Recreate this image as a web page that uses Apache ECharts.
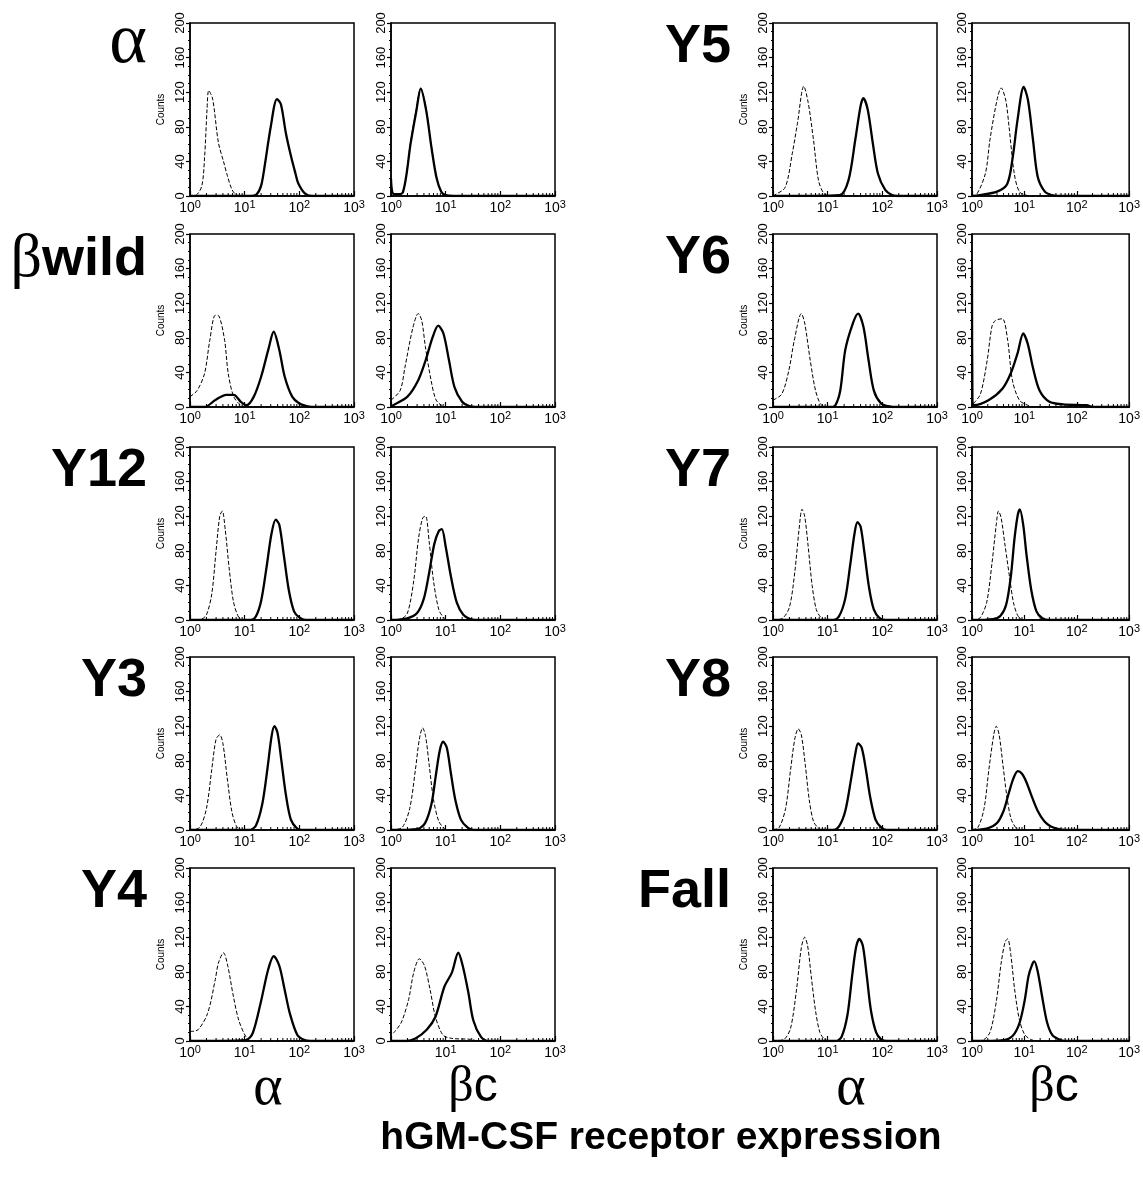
<!DOCTYPE html>
<html><head><meta charset="utf-8">
<script src="https://cdn.jsdelivr.net/npm/echarts@6/dist/echarts.min.js"></script>
<style>html,body{margin:0;padding:0;background:#fff}#c{width:1143px;height:1181px}</style>
</head><body><div id="c"></div>
<script>
// ---------- labels ----------
const rowLabelsLeft = ['α', 'βwild', 'Y12', 'Y3', 'Y4'];
const rowLabelsRight = ['Y5', 'Y6', 'Y7', 'Y8', 'Fall'];
const panelLabels = ['α', 'βc'];
const xTickValues = [1, 10, 100, 1000];
const xMinorTicks = [2,3,4,5,6,7,8,9,20,30,40,50,60,70,80,90,200,300,400,500,600,700,800,900];
const yTickValues = [0, 40, 80, 120, 160, 200];
const title = 'hGM-CSF receptor expression';

// ---------- data: [fluorescence, counts]; ctl = dashed, exp = solid ----------
const alpha_a_ctl = [[1,0],[1.3,1],[1.65,12],[1.85,45],[2.05,100],[2.2,122],[2.6,112],[3.3,62],[4.1,40],[4.8,24],[5.8,8],[6.8,2],[8.5,0],[1000,0]];
const alpha_a_exp = [[1,0],[13,0],[16.6,2],[20,12],[23,33],[30,80],[39,112],[46,106],[57,72],[71,45],[85,26],[95,15],[126,3],[170,0],[1000,0]];
const alpha_b_ctl = [[1,20],[1.06,4],[1.2,2],[1.64,4],[2.3,64],[2.9,100],[3.5,125],[4.4,100],[5.5,57],[6.8,22],[8.3,5],[10,1],[14,0],[1000,0]];
const alpha_b_exp = [[1,20],[1.06,4],[1.2,2],[1.64,4],[2.3,62],[2.9,98],[3.5,124],[4.4,99],[5.5,56],[6.8,21],[8.3,5],[10,1],[14,0],[1000,0]];

const bwild_a_ctl = [[1,12],[1.35,19],[1.85,39],[2.3,77],[2.9,106],[3.4,105],[4.3,77],[5,39],[6.3,12],[8.5,2],[11,0],[1000,0]];
const bwild_a_exp = [[1,0],[1.85,0],[2.9,8],[4.6,14],[6.3,14],[8.5,6],[10.8,2],[14.7,12],[20,35],[27,66],[34,87],[43,66],[54,35],[74,12],[100,4],[135,1],[170,0],[1000,0]];
const bwild_b_ctl = [[1,8],[1.47,19],[1.8,46],[2.5,91],[3.15,108],[3.65,100],[4.25,70],[5.4,31],[6.7,8],[9,1],[12,0],[1000,0]];
const bwild_b_exp = [[1,0],[1.1,2],[2,12],[3.15,31],[4.3,54],[5.8,81],[7.3,94],[9.1,85],[11.5,54],[14.5,23],[20,6],[27,1],[35,0],[1000,0]];

const y12_a_ctl = [[1,0],[1.6,1],[2,6],[2.5,30],[3,80],[3.5,120],[3.9,126],[4.4,105],[5.2,60],[6.2,22],[7.5,5],[9,0],[1000,0]];
const y12_a_exp = [[1,0],[13,0],[16,4],[20,22],[25,60],[31,100],[37,116],[43,110],[52,75],[64,35],[80,10],[100,3],[130,0],[1000,0]];
const y12_b_ctl = [[1,0],[1.5,1],[2,8],[2.6,45],[3.2,95],[3.8,118],[4.3,120],[5,90],[6,45],[7.5,12],[9.5,2],[12,0],[1000,0]];
const y12_b_exp = [[1,0],[2,2],[3,8],[4,25],[5,55],[6.2,88],[7.5,103],[8.5,105],[10,85],[12.5,50],[16,20],[21,6],[28,1],[35,0],[1000,0]];

const y3_a_ctl = [[1,0],[1.5,3],[2,25],[2.5,70],[3,105],[3.5,110],[4,100],[4.8,60],[5.8,22],[7,5],[8.5,0],[1000,0]];
const y3_a_exp = [[1,0],[12,0],[16,5],[21,30],[26,70],[31,108],[35,120],[40,112],[47,80],[57,40],[70,12],[90,2],[110,0],[1000,0]];
const y3_b_ctl = [[1,0],[1.6,3],[2.2,25],[2.8,70],[3.3,105],[3.8,118],[4.3,108],[5,75],[6,35],[7.5,10],[9.5,2],[12,0],[1000,0]];
const y3_b_exp = [[1,0],[3,1],[4.2,8],[5.5,30],[6.5,60],[7.8,92],[9,102],[10.5,95],[12.5,65],[15,35],[19,12],[25,3],[32,0],[1000,0]];

const y4_a_ctl = [[1,11],[1.4,13],[2.1,32],[2.9,71],[3.3,90],[4.1,102],[4.9,87],[6.2,52],[7.8,24],[10.5,5],[13,0],[1000,0]];
const y4_a_exp = [[1,0],[10.5,1],[14,9],[19.6,44],[27,83],[34,98],[43,87],[54,59],[67,32],[92,7],[125,1],[160,0],[1000,0]];
const y4_b_ctl = [[1.1,9],[1.53,21],[2.1,48],[2.6,79],[3.3,95],[4.1,87],[5.2,59],[6.5,28],[8.9,7],[13,3],[28,2],[40,0],[1000,0]];
const y4_b_exp = [[1,0],[1.9,0],[2.8,3],[4.5,13],[6.5,28],[9.5,63],[13,79],[17,102],[20.5,87],[26,56],[32,24],[44,5],[59,0],[1000,0]];

const y5_a_ctl = [[1,0],[1.07,1],[1.67,10],[2.25,49],[2.8,84],[3.66,127],[4.4,108],[5.5,65],[6.8,18],[8.5,3],[11,0],[1000,0]];
const y5_a_exp = [[1,0],[16.6,1],[24,18],[32,65],[40,104],[45,113],[54,100],[67,61],[83,26],[113,7],[150,1],[190,0],[1000,0]];
const y5_b_ctl = [[1,0],[1.2,1],[1.8,26],[2.2,65],[3,111],[3.6,125],[4.4,111],[5.1,80],[6.4,26],[8,5],[10.8,1],[14,0],[1000,0]];
const y5_b_exp = [[1,0],[1.4,1],[3,5],[4.7,14],[5.9,42],[7.4,88],[9.7,126],[11.7,111],[14.6,65],[18,22],[24.6,5],[33,1],[45,0],[1000,0]];

const y6_a_ctl = [[1,8],[1.45,15],[1.96,43],[2.45,77],[3.3,108],[3.8,97],[4.8,54],[6,19],[7.5,3],[10,0],[1000,0]];
const y6_a_exp = [[1,0],[11,0],[13.8,2],[17,19],[21,66],[29,97],[36,108],[45,93],[56,54],[70,19],[95,4],[127,1],[160,0],[1000,0]];
const y6_b_ctl = [[1.07,4],[1.45,15],[1.95,54],[2.4,93],[2.8,100],[3.8,102],[4.8,77],[5.9,31],[8,8],[11.6,2],[16,0],[1000,0]];
const y6_b_exp = [[1,158],[1.02,6],[1.1,2],[2.1,8],[3.8,21],[5.5,39],[7.4,62],[9.5,85],[11.6,73],[14.5,46],[19.5,19],[30,6],[55,3],[155,2],[200,0],[1000,0]];

const y7_a_ctl = [[1,0],[1.5,2],[2,15],[2.5,55],[3,105],[3.4,128],[3.8,120],[4.4,85],[5.2,40],[6.2,12],[7.5,3],[9,0],[1000,0]];
const y7_a_exp = [[1,0],[12,0],[16,4],[21,25],[26,65],[31,100],[35,113],[40,108],[47,78],[57,38],[70,12],[90,2],[115,0],[1000,0]];
const y7_b_ctl = [[1,0],[1.4,2],[1.9,20],[2.4,65],[2.9,110],[3.2,126],[3.6,118],[4.3,85],[5.2,50],[6.2,20],[7.5,5],[9.5,0],[1000,0]];
const y7_b_exp = [[1,0],[2.5,1],[3.5,5],[4.5,18],[5.5,50],[6.5,95],[7.5,122],[8.2,128],[9.5,110],[11,75],[13.5,35],[17,10],[22,2],[30,0],[1000,0]];

const y8_a_ctl = [[1,0],[1.3,3],[1.7,25],[2.1,70],[2.5,105],[2.9,117],[3.3,110],[3.9,75],[4.6,35],[5.5,10],[6.8,2],[8,0],[1000,0]];
const y8_a_exp = [[1,0],[12,0],[16,4],[21,22],[27,60],[32,88],[36,100],[42,95],[50,70],[60,38],[75,12],[95,3],[120,0],[1000,0]];
const y8_b_ctl = [[1,0],[1.3,3],[1.7,25],[2.1,70],[2.6,110],[2.9,120],[3.3,110],[3.9,75],[4.6,40],[5.5,14],[6.8,3],[8.5,0],[1000,0]];
const y8_b_exp = [[1,0],[2,2],[3,8],[4,22],[5,42],[6.2,60],[7.5,68],[9,65],[11,55],[14,38],[18,22],[24,10],[32,4],[45,1],[60,0],[1000,0]];

const fall_a_ctl = [[1,0],[1.6,2],[2.1,15],[2.7,60],[3.3,108],[3.8,120],[4.3,110],[5,75],[6,35],[7.2,10],[8.8,2],[11,0],[1000,0]];
const fall_a_exp = [[1,0],[14,0],[18,5],[23,30],[28,75],[33,108],[38,118],[44,110],[52,75],[62,35],[77,10],[95,2],[120,0],[1000,0]];
const fall_b_ctl = [[1,0],[1.6,1],[2.2,10],[2.9,45],[3.6,90],[4.3,115],[4.8,118],[5.5,100],[6.5,60],[8,25],[10,8],[13,2],[18,0],[1000,0]];
const fall_b_exp = [[1,0],[4,1],[6,6],[8,20],[10,45],[12,75],[14,88],[15.5,92],[18,80],[22,50],[27,22],[34,7],[45,2],[60,0],[1000,0]];

// panel table built from the arrays: [groupCol, row, ctl, exp]
const panels = [
  [0,0,alpha_a_ctl,alpha_a_exp],[1,0,alpha_b_ctl,alpha_b_exp],
  [0,1,bwild_a_ctl,bwild_a_exp],[1,1,bwild_b_ctl,bwild_b_exp],
  [0,2,y12_a_ctl,y12_a_exp],[1,2,y12_b_ctl,y12_b_exp],
  [0,3,y3_a_ctl,y3_a_exp],[1,3,y3_b_ctl,y3_b_exp],
  [0,4,y4_a_ctl,y4_a_exp],[1,4,y4_b_ctl,y4_b_exp],
  [2,0,y5_a_ctl,y5_a_exp],[3,0,y5_b_ctl,y5_b_exp],
  [2,1,y6_a_ctl,y6_a_exp],[3,1,y6_b_ctl,y6_b_exp],
  [2,2,y7_a_ctl,y7_a_exp],[3,2,y7_b_ctl,y7_b_exp],
  [2,3,y8_a_ctl,y8_a_exp],[3,3,y8_b_ctl,y8_b_exp],
  [2,4,fall_a_ctl,fall_a_exp],[3,4,fall_b_ctl,fall_b_exp]
];

// ---------- layout ----------
const colLeft = [190, 391, 773, 972];
const rowTop = [23, 234, 447, 657, 868];
const PW = 164, PH = 173;
const SANS = '"Liberation Sans", Arial, Helvetica, sans-serif';
const SERIF = '"Liberation Serif", "Times New Roman", serif';

const grid = [], xAxis = [], yAxis = [], series = [];
panels.forEach((p, i) => {
  const [c, r, ctl, exp] = p;
  grid.push({left: colLeft[c], top: rowTop[r], width: PW, height: PH, show: true,
    borderColor: '#000', borderWidth: 1.5, backgroundColor: 'transparent'});
  const hide0 = (c === 1 && r === 4);
  xAxis.push({type: 'log', logBase: 10, min: 1, max: 1000, gridIndex: i,
    axisLine: {lineStyle: {color: '#000', width: 1.5}},
    axisTick: {show: true, inside: true, length: 5, lineStyle: {color: '#000', width: 1.2}},
    splitLine: {show: false},
    axisLabel: {margin: 3, color: '#000', showMinLabel: true, showMaxLabel: true,
      formatter: v => {
        const e = Math.round(Math.log10(v));
        if (hide0 && e === 0) return '';
        return '{b|10}{s|' + e + '}';
      },
      rich: {b: {fontSize: 14, fontFamily: SANS, color: '#000'},
             s: {fontSize: 11, fontFamily: SANS, color: '#000', verticalAlign: 'bottom', padding: [0, 0, 8, 0]}}}
  });
  const first = (c === 0 || c === 2);
  yAxis.push({type: 'value', min: 0, max: 200, interval: 40, gridIndex: i,
    name: first ? 'Counts' : '', nameLocation: 'middle', nameRotate: 90, nameGap: 24,
    nameTextStyle: {fontSize: 10, fontFamily: SANS, color: '#000', padding: [0, 0, 0, 0]},
    axisLine: {show: true, lineStyle: {color: '#000', width: 1.5}},
    axisTick: {show: true, length: 4, lineStyle: {color: '#000', width: 1.2}},
    minorTick: {show: true, splitNumber: 4, length: 2, lineStyle: {color: '#000'}},
    splitLine: {show: false},
    axisLabel: {rotate: 90, margin: 3, fontSize: 13, fontFamily: SANS, color: '#000'}
  });
  series.push({type: 'line', xAxisIndex: i, yAxisIndex: i, data: ctl, showSymbol: false,
    smooth: 0.3, lineStyle: {color: '#000', width: 1, type: [4, 2]}, z: 3, animation: false});
  series.push({type: 'line', xAxisIndex: i, yAxisIndex: i, data: exp, showSymbol: false,
    smooth: 0.3, lineStyle: {color: '#000', width: 2.3}, z: 4, animation: false});
  series.push({type: 'custom', xAxisIndex: i, yAxisIndex: i, animation: false, silent: true,
    data: xMinorTicks.map(v => [v, 0]),
    renderItem: (params, api) => {
      const pt = api.coord([api.value(0), 0]);
      return {type: 'line', shape: {x1: pt[0], y1: pt[1], x2: pt[0], y2: pt[1] - 3},
        style: {stroke: '#000', lineWidth: 1}};
    }});
});

// ---------- text graphics ----------
const graphic = [];
function txt(x, y, text, font, align, rich) {
  const s = {text: text, font: font, fill: '#000', align: align, verticalAlign: 'middle',
    textAlign: align, textVerticalAlign: 'middle'};
  if (rich) s.rich = rich;
  graphic.push({type: 'text', x: x, y: y, style: s, z: 100});
}
rowLabelsLeft.forEach((t, r) => {
  const y = rowTop[r] + 24;
  if (t === 'α') txt(147, y - 4, t, '72px ' + SERIF, 'right');
  else if (t.startsWith('β')) txt(147, y + 2, '{g|β}{w|' + t.slice(1) + '}', '54px ' + SANS, 'right',
      {g: {font: '62px ' + SERIF, fill: '#000'}, w: {font: 'bold 54px ' + SANS, fill: '#000'}});
  else txt(147, y, t, 'bold 54px ' + SANS, 'right');
});
rowLabelsRight.forEach((t, r) => {
  txt(731, rowTop[r] + 24, t, 'bold 54px ' + SANS, 'right');
});
[0, 1, 2, 3].forEach(c => {
  const cx = colLeft[c] + PW / 2;
  if (panelLabels[c % 2] === 'α') txt(cx - 4, 1089, 'α', '56px ' + SERIF, 'center');
  else txt(cx, 1088, '{g|β}{c|c}', '46px ' + SANS, 'center',
      {g: {font: '50px ' + SERIF, fill: '#000'}, c: {font: '48px ' + SANS, fill: '#000'}});
});
txt(661, 1138, title, 'bold 39px ' + SANS, 'center');

const chart = echarts.init(document.getElementById('c'), null, {renderer: 'canvas'});
chart.setOption({animation: false, backgroundColor: '#fff', grid, xAxis, yAxis, series, graphic});
</script></body></html>
